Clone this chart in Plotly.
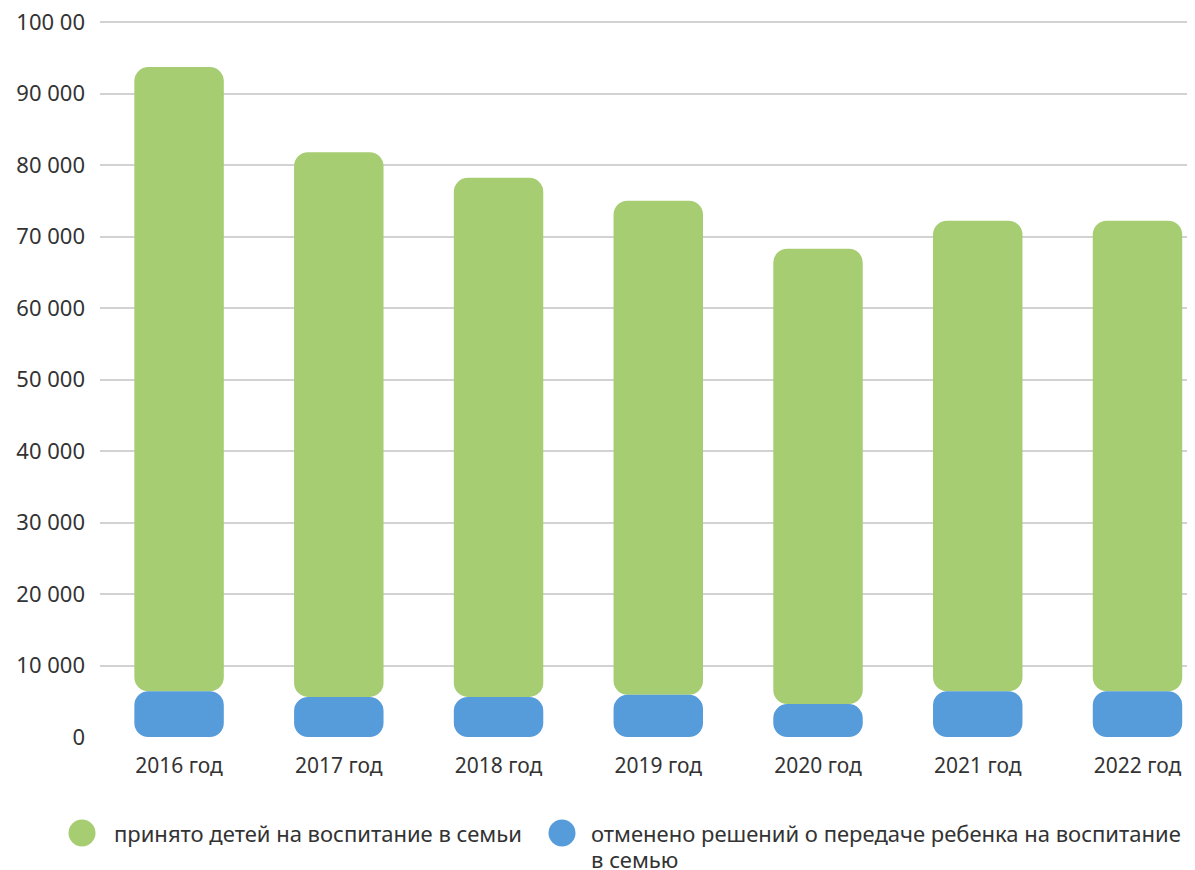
import plotly.graph_objects as go

years = ["2016 год", "2017 год", "2018 год", "2019 год", "2020 год", "2021 год", "2022 год"]
adopted = [93700, 81800, 78200, 75000, 68300, 72200, 72200]   # принято детей на воспитание в семьи
canceled = [6400, 5600, 5600, 5900, 4600, 6400, 6400]       # отменено решений
tick_vals = [0, 10000, 20000, 30000, 40000, 50000, 60000, 70000, 80000, 90000, 100000]
tick_text = ["0", "10 000", "20 000", "30 000", "40 000", "50 000", "60 000",
             "70 000", "80 000", "90 000", "100 00"]
y_top = 100420

GREEN = "#a6cd72"
BLUE = "#569cdb"
FONT = "Noto Sans"
TXT = "#333333"

fig = go.Figure()
# green segment on top of the blue one
fig.add_trace(go.Bar(
    x=years, y=[a - c for a, c in zip(adopted, canceled)], base=canceled,
    marker=dict(color=GREEN, line=dict(width=0)), width=0.56,
    name="принято детей на воспитание в семьи", showlegend=False))
# blue segment drawn downward from its top so that its bottom corners are rounded
fig.add_trace(go.Bar(
    x=years, y=[-c for c in canceled], base=canceled,
    marker=dict(color=BLUE, line=dict(width=0)), width=0.56,
    name="отменено решений о передаче ребенка на воспитание в семью", showlegend=False))

OFF = 8  # page body margin
W, H = 1195 - OFF, 870 - OFF
L, R, T, B = 100 - OFF, 0, 19 - OFF, 133
pw, ph = W - L - R, H - T - B

def px(x):
    return (x - OFF - L) / pw

def py(y):
    return (H - B - (y - OFF)) / ph

circles = [(82, GREEN), (562, BLUE)]
texts = [
    (113, 833, "принято детей на воспитание в семьи"),
    (590, 833, "отменено решений о передаче ребенка на воспитание"),
    (590, 859, "в семью"),
]
shapes = []
annotations = []
for cx, col in circles:
    shapes.append(dict(type="circle", xref="paper", yref="paper",
                       xsizemode="pixel", ysizemode="pixel",
                       xanchor=px(cx), yanchor=py(833),
                       x0=-13.5, x1=13.5, y0=-13.5, y1=13.5,
                       fillcolor=col, line=dict(width=0)))
for tx, ty, label in texts:
    annotations.append(dict(xref="paper", yref="paper", x=px(tx), y=py(ty),
                            xanchor="left", yanchor="middle", align="left",
                            showarrow=False, text=label, borderpad=0,
                            font=dict(family=FONT, size=22, color=TXT)))

fig.update_layout(
    width=W, height=H,
    margin=dict(l=L, r=R, t=T, b=B),
    paper_bgcolor="white", plot_bgcolor="white",
    barmode="overlay", barcornerradius=14,
    showlegend=False,
    font=dict(family=FONT, size=20, color=TXT),
    shapes=shapes, annotations=annotations,
    xaxis=dict(range=[-0.495, 6.36], showgrid=False, zeroline=False, showline=False,
               ticks="", ticklabelstandoff=14, automargin=False,
               tickfont=dict(family=FONT, size=21, color=TXT), fixedrange=True),
    yaxis=dict(range=[0, y_top], tickvals=tick_vals, ticktext=tick_text,
               showgrid=True, gridcolor="#d2d2d2", gridwidth=2,
               zeroline=False, showline=False, ticks="", ticklabelstandoff=14,
               ticklabeloverflow="allow", automargin=False,
               tickfont=dict(family=FONT, size=22, color=TXT), fixedrange=True),
)

fig.write_html("out.html")
